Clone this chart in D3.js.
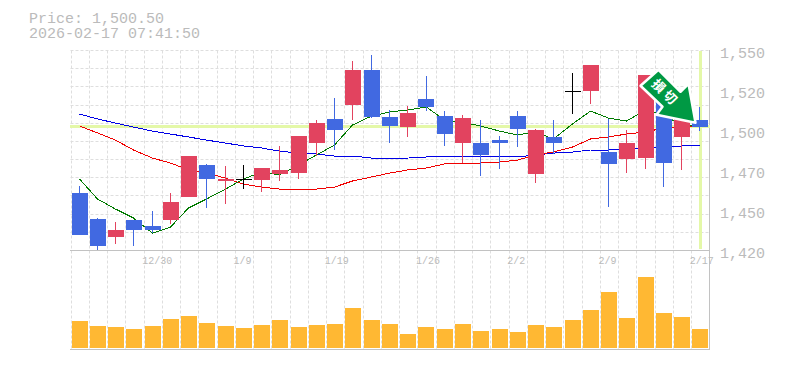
<!DOCTYPE html>
<html><head><meta charset="utf-8">
<script src="https://cdn.jsdelivr.net/npm/d3@7"></script>
<style>
html,body{margin:0;padding:0;background:#fff}
svg{display:block}
text{font-family:"Liberation Mono",monospace;fill:#bbb}
</style></head><body>
<svg id="c" width="785" height="370"></svg>
<script>
const dates=["12/24","12/25","12/26","12/29","12/30","1/5","1/6","1/7","1/8","1/9","1/13","1/14","1/15","1/16","1/19","1/20","1/21","1/22","1/23","1/26","1/27","1/28","1/29","1/30","2/2","2/3","2/4","2/5","2/6","2/9","2/10","2/12","2/13","2/16","2/17"];
const dateTicks=["12/30","1/9","1/19","1/26","2/2","2/9","2/17"];
const priceLabels=["1,550","1,520","1,500","1,470","1,450","1,420"];
const open=[1457.7,1441.0,1429.4,1440.3,1436.5,1440.3,1455.2,1475.8,1465.5,1466.8,1466.1,1470.0,1470.6,1490.0,1505.5,1514.5,1537.1,1506.8,1500.5,1518.4,1507.4,1490.0,1490.0,1491.9,1507.4,1470.0,1493.9,1523.5,1523.5,1484.2,1479.7,1480.3,1524.2,1493.9,1504.8];
const high=[1462.3,1441.6,1439.0,1440.3,1446.1,1457.7,1481.6,1476.5,1475.2,1475.8,1473.9,1488.1,1494.5,1504.8,1519.0,1542.9,1546.8,1511.3,1513.9,1533.2,1510.6,1508.1,1504.8,1494.5,1510.6,1499.0,1504.8,1535.2,1540.3,1505.5,1498.4,1533.9,1527.0,1514.5,1513.2];
const low=[1430.6,1421.0,1424.8,1423.5,1431.9,1437.7,1455.2,1448.1,1450.6,1460.3,1458.4,1465.5,1466.8,1481.6,1485.5,1504.8,1506.1,1490.0,1493.9,1510.6,1488.1,1477.1,1468.7,1473.2,1487.4,1464.2,1482.9,1508.7,1515.2,1448.7,1470.6,1473.2,1461.6,1472.6,1497.7];
const close=[1430.6,1423.5,1433.9,1433.9,1433.9,1451.9,1481.6,1466.8,1466.8,1466.8,1473.9,1472.6,1494.5,1502.9,1498.4,1537.1,1506.8,1501.0,1509.4,1513.2,1495.8,1506.1,1482.3,1490.0,1499.0,1498.4,1490.0,1523.5,1540.3,1476.5,1490.0,1533.9,1477.1,1514.5,1500.5];
const ma5=[1466.8,1453.9,1447.4,1441.6,1431.9,1435.8,1448.1,1453.9,1460.3,1466.8,1471.3,1469.4,1475.8,1482.3,1488.7,1501.6,1507.4,1510.0,1511.3,1513.2,1504.8,1503.5,1501.0,1497.7,1495.2,1497.1,1492.6,1502.3,1510.6,1506.1,1504.2,1511.3,1508.1,1501.6,1501.0];
const ma25=[1501.0,1496.5,1491.9,1485.5,1480.3,1477.1,1472.6,1470.6,1467.4,1463.5,1461.6,1460.3,1460.3,1460.3,1461.6,1465.5,1468.1,1470.6,1472.6,1473.9,1476.5,1477.1,1477.1,1477.7,1479.0,1482.3,1484.2,1487.4,1492.6,1493.9,1495.8,1497.1,1499.7,1500.3,1501.0];
const ma75=[1508.7,1505.5,1502.9,1500.3,1497.7,1495.8,1493.9,1491.9,1490.0,1488.1,1486.8,1484.8,1483.5,1482.9,1481.6,1481.6,1480.3,1480.3,1480.3,1481.0,1481.0,1481.0,1481.0,1481.0,1481.0,1482.3,1483.5,1484.2,1485.5,1485.5,1486.1,1486.8,1487.4,1488.1,1488.1];
const volume=[27,22,21,19,22,29,32,25,22,20,23,28,21,23,24,40,28,24,14,21,19,24,17,19,16,23,21,28,38,56,30,71,35,31,19];
const lastPrice=1500.5;
const titleLines=["Price: 1,500.50","2026-02-17 07:41:50"];
const arrowLabel="損切";

const L=70.5,R=709.5,T=50,B=250,VB=348,VT=273;
const x=d3.scaleBand().domain(dates).range([L,R]).paddingInner(0.12).paddingOuter(0.06);
const y=d3.scaleLinear().domain([1421,1550]).range([B,T]);
const yv=d3.scaleLinear().domain([0,75]).range([VB,VT]);
const yLab=d3.scalePoint().domain(priceLabels).range([53,253]);
const cx=d=>Math.round(x(d)+x.bandwidth()/2)-0.5;
const svg=d3.select("#c");

const gridColor="#dedede",axisColor="#c2c2c2",markColor="#e4f8a8";
const step=x.step();
const vGrid=dates.map((d,i)=>L+i*step);
const g=svg.append("g").attr("fill","none").attr("stroke",gridColor).attr("stroke-dasharray","3,2");
g.selectAll("line.v").data(vGrid).join("line").attr("class","v")
 .attr("x1",d=>Math.round(d)+0.5).attr("x2",d=>Math.round(d)+0.5).attr("y1",T+0.5).attr("y2",349);
g.selectAll("line.h").data(d3.range(0,11)).join("line").attr("class","h")
 .attr("x1",L).attr("x2",R)
 .attr("y1",i=>Math.round(T+i*(B-T)/11)+0.5).attr("y2",i=>Math.round(T+i*(B-T)/11)+0.5);

// frame
const frame=svg.append("g").attr("stroke",axisColor).attr("shape-rendering","crispEdges");
frame.append("line").attr("x1",70).attr("x2",710).attr("y1",B+0.5).attr("y2",B+0.5);
frame.append("line").attr("x1",70).attr("x2",710).attr("y1",349.5).attr("y2",349.5);
frame.append("line").attr("x1",709.5).attr("x2",709.5).attr("y1",T).attr("y2",350);

// current price markers
svg.append("rect").attr("x",70).attr("width",640).attr("y",y(lastPrice)-1.5).attr("height",3).attr("fill",markColor).attr("shape-rendering","crispEdges");
svg.append("rect").attr("x",cx(dates[34])-1).attr("width",3).attr("y",T+1).attr("height",B-T-2).attr("fill",markColor).attr("shape-rendering","crispEdges");

// moving averages
const line=d3.line().x((d,i)=>cx(dates[i])).y(d=>y(d));
[[ma75,"#0000e6",1],[ma25,"#f00000",1],[ma5,"#007a00",1]].forEach(([s,c,w])=>{
  svg.append("path").attr("d",line(s)).attr("fill","none").attr("stroke",c).attr("stroke-width",w).attr("shape-rendering","crispEdges");
});

// candles
const UP="#e2435f",DOWN="#4169e1";
const col=i=>close[i]===open[i]?"#000":(close[i]>open[i]?UP:DOWN);
const cg=svg.append("g").attr("shape-rendering","crispEdges");
dates.forEach((d,i)=>{
  cg.append("line").attr("x1",cx(d)).attr("x2",cx(d)).attr("y1",y(high[i])).attr("y2",y(low[i])).attr("stroke",col(i));
  const top=y(Math.max(open[i],close[i])),bot=y(Math.min(open[i],close[i]));
  if(close[i]===open[i]){
    cg.append("line").attr("x1",x(d)).attr("x2",x(d)+x.bandwidth()).attr("y1",Math.round(top)+0.5).attr("y2",Math.round(top)+0.5).attr("stroke","#000");
  }else{
    cg.append("rect").attr("x",Math.round(x(d))).attr("width",16).attr("y",Math.round(top)).attr("height",Math.max(1,Math.round(bot)-Math.round(top))).attr("fill",col(i));
  }
});

// volume
svg.append("g").attr("shape-rendering","crispEdges").selectAll("rect").data(volume).join("rect")
 .attr("x",(d,i)=>Math.round(x(dates[i]))).attr("width",16)
 .attr("y",d=>yv(d)).attr("height",d=>VB-yv(d)).attr("fill","#ffb833");

// axes
const ax=d3.axisBottom(x).tickValues(dateTicks).tickSize(0).tickPadding(0);
const axg=svg.append("g").attr("transform","translate(0,257)").call(ax);
axg.select(".domain").remove();
axg.selectAll("text").attr("text-anchor","start").attr("dx",-10.5).attr("dy","0.71em").style("font-size","10px").style("font-family",'"Liberation Mono",monospace').attr("fill","#bbb");
const ay=d3.axisRight(yLab).tickSize(0).tickPadding(0);
const ayg=svg.append("g").attr("transform","translate(720,0)").call(ay);
ayg.select(".domain").remove();
ayg.selectAll("text").style("font-size","15px").style("font-family",'"Liberation Mono",monospace').attr("fill","#bbb");

// title
svg.selectAll("text.t").data(titleLines).join("text").attr("class","t")
 .attr("x",29).attr("y",(d,i)=>23+i*15).style("font-size","15px").text(d=>d);

// annotation arrow anchored on the last candle
const arrowPts=[[-55,-37],[-37,-53],[-15,-31],[-7,-39],[0,0],[-39,-8],[-33,-16]];
const ag=svg.append("g").attr("transform",`translate(${cx(dates[34])-4},${y(lastPrice)-4})`);
ag.append("polygon").attr("points",arrowPts.join(" ")).attr("fill","#009944").attr("stroke","#fff").attr("stroke-width",2.5).attr("stroke-linejoin","round");
ag.append("text").attr("transform","translate(-30,-30) rotate(45)").attr("text-anchor","middle").attr("dy","0.36em")
 .style("font-family",'"Noto Sans CJK JP"').style("font-weight",700).style("font-size","13px").style("letter-spacing","3px").style("fill","#fff").text(arrowLabel);
</script>
</body></html>
